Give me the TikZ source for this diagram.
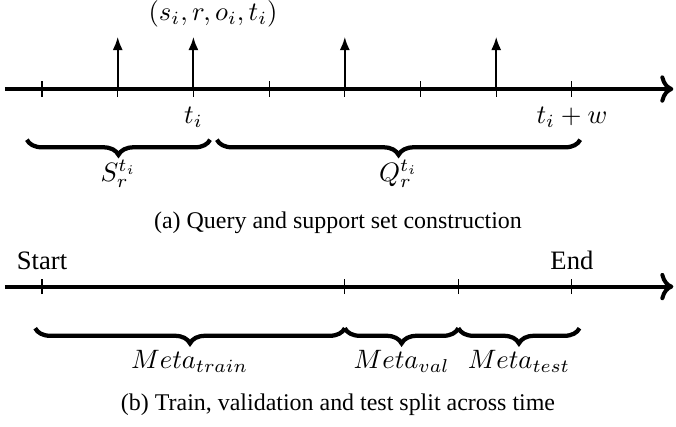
\documentclass[tikz,border=0pt]{standalone}
\usepackage[no-math]{fontspec}
\setmainfont{Liberation Serif}
\usetikzlibrary{decorations.pathreplacing,arrows.meta}
\tikzset{
  axisline/.style={line width=1.5pt,->},
  tickmark/.style={line width=0.4pt},
  eventarrow/.style={line width=0.8pt,-{Latex[length=5pt,width=3.8pt]}},
  bracedeco/.style={decorate,decoration={brace,mirror,amplitude=0.2cm},line width=1.6pt},
  mathlbl/.style={inner sep=0pt,font=\fontsize{10}{12}\selectfont},
  captxt/.style={inner sep=0pt,font=\fontsize{9}{11}\selectfont},
}
\begin{document}
\begin{tikzpicture}
\useasboundingbox (-0.555,1.176) rectangle (8.375,-4.452);
% ---------- (a)
\coordinate (a0) at (-0.49,0);
\coordinate (a1) at (8.34,0);
\draw[axisline] (a0) -- (a1);
\foreach \i in {0,...,7} {
  \coordinate (ta\i) at (\i,0);
  \draw[tickmark] (\i,-0.1) -- (\i,0.1);
}
\foreach \i in {1,2,4,6} {
  \coordinate (ea\i) at (\i,0.69);
  \draw[eventarrow] (ta\i) -- (ea\i);
}
\node[mathlbl] (quad) at (2.26,0.99) {$(s_i,r,o_i,t_i)$};
\node[mathlbl] (ti) at (2,-0.38) {$t_i$};
\node[mathlbl] (tiw) at (7,-0.38) {$t_i+w$};
\coordinate (sb0) at (-0.2,-0.67);
\coordinate (sb1) at (2.22,-0.67);
\coordinate (qb0) at (2.31,-0.67);
\coordinate (qb1) at (7.11,-0.67);
\draw[bracedeco] (sb0) -- (sb1);
\draw[bracedeco] (qb0) -- (qb1);
\node[mathlbl] (slbl) at (1.01,-1.12) {$S_r^{t_i}$};
\node[mathlbl] (qlbl) at (4.71,-1.12) {$Q_r^{t_i}$};
\node[captxt] (capa) at (3.91,-1.77) {(a) Query and support set construction};
% ---------- (b)
\coordinate (b0) at (-0.49,-2.61);
\coordinate (b1) at (8.34,-2.61);
\draw[axisline] (b0) -- (b1);
\foreach \x/\n in {0/s,4/v,5.5/t,7/e} {
  \coordinate (tb\n) at (\x,-2.61);
  \draw[tickmark] (\x,-2.71) -- (\x,-2.51);
}
\node[inner sep=0pt,font=\fontsize{10}{12}\selectfont] (start) at (0,-2.27) {Start};
\node[inner sep=0pt,font=\fontsize{10}{12}\selectfont] (end) at (7,-2.27) {End};
\coordinate (tr0) at (-0.09,-3.16);
\coordinate (tr1) at (4,-3.16);
\coordinate (va1) at (5.5,-3.16);
\coordinate (te1) at (7.1,-3.16);
\draw[bracedeco] (tr0) -- (tr1);
\draw[bracedeco] (tr1) -- (va1);
\draw[bracedeco] (va1) -- (te1);
\node[mathlbl] (trl) at (1.95,-3.6) {$Meta_{train}$};
\node[mathlbl] (val) at (4.75,-3.6) {$Meta_{val}$};
\node[mathlbl] (tel) at (6.3,-3.6) {$Meta_{test}$};
\node[captxt] (capb) at (3.91,-4.17) {(b) Train, validation and test split across time};
\end{tikzpicture}
\end{document}
